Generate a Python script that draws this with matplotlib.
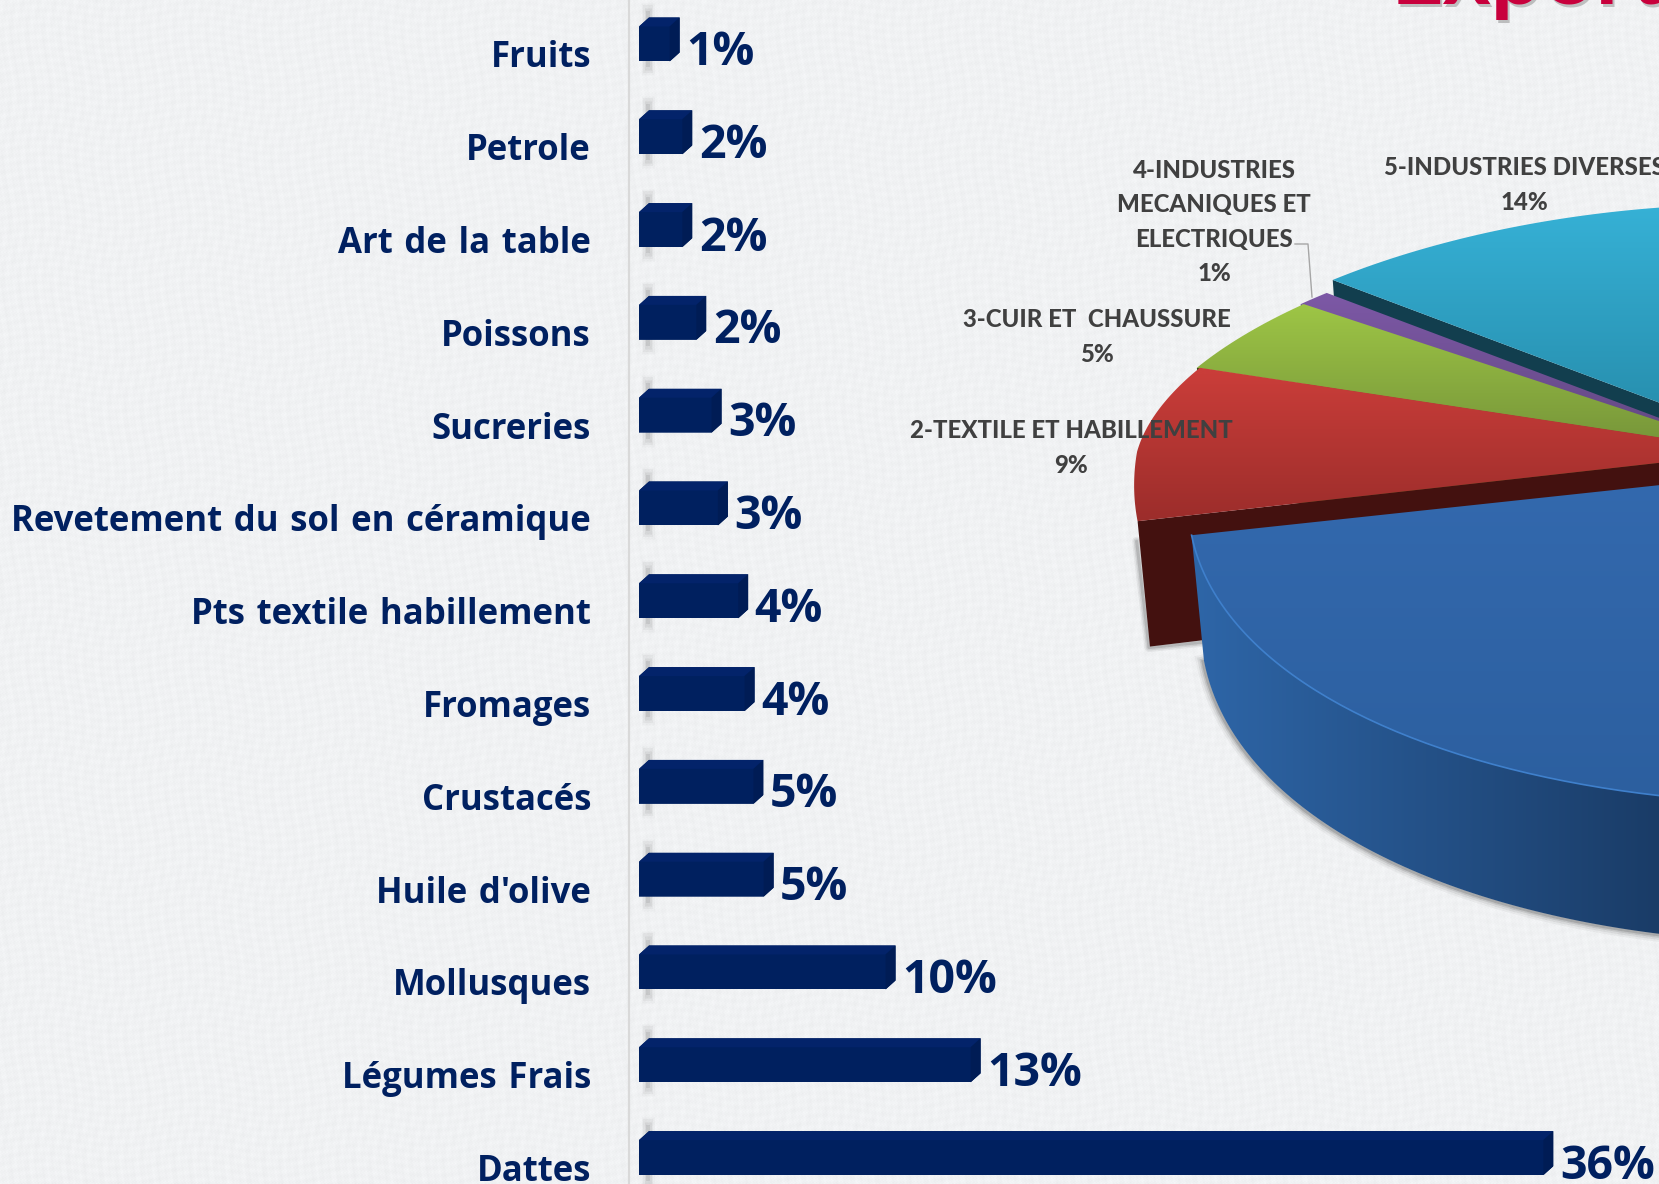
import numpy as np
import matplotlib
matplotlib.use("Agg")
import matplotlib.pyplot as plt
from matplotlib.patches import Polygon

# ---- data ----
bar_names = ["Fruits", "Petrole", "Art de la table", "Poissons", "Sucreries",
             "Revetement du sol en céramique", "Pts textile habillement", "Fromages",
             "Crustacés", "Huile d'olive", "Mollusques", "Légumes Frais", "Dattes"]
bar_values = [1.6, 2.1, 2.1, 2.65, 3.25, 3.5, 4.3, 4.55, 4.9, 5.3, 10.1, 13.45, 36.0]
bar_labels = ["1%", "2%", "2%", "2%", "3%", "3%", "4%", "4%", "5%", "5%", "10%", "13%", "36%"]

pie_labels = ["2-TEXTILE ET HABILLEMENT\n9%", "3-CUIR ET  CHAUSSURE\n5%",
              "4-INDUSTRIES\nMECANIQUES ET\nELECTRIQUES\n1%", "5-INDUSTRIES DIVERSES\n14%"]
pie_shares = [9, 5, 1, 14]      # red, green, purple, cyan
big_share = 71                  # blue slice

W, H = 1659, 1184
NAVY = "#002060"
fig = plt.figure(figsize=(W / 100, H / 100), dpi=100)

# ---- pixel axes: background, pie ----
ax = fig.add_axes([0, 0, 1, 1])
ax.set_xlim(0, W)
ax.set_ylim(H, 0)
ax.axis("off")

yy, xx = np.mgrid[0:H, 0:W]
tex = (242.0 + 1.6 * np.sin(xx * 1.93 + yy * 0.41) * np.sin(yy * 2.37 - xx * 0.29)
       + 1.6 * np.sin(xx * 0.31 + yy * 0.17) * np.sin(yy * 0.23 - xx * 0.11)
       + 1.2 * np.sin(xx * 0.77 + 3 * np.sin(yy * 0.05)) + 1.2 * np.sin(yy * 0.83 + 3 * np.sin(xx * 0.04))
       + 1.5 * np.sin(xx * 3.1 + yy * 2.3) * np.sin(xx * 1.3 - yy * 3.7))
bg = np.dstack([tex - 1.5, tex, tex + 1.5]).clip(0, 255).astype(np.uint8)
ax.imshow(bg, extent=(0, W, H, 0), aspect="auto", zorder=0, interpolation="nearest")


def to_rgb(c):
    return np.array(matplotlib.colors.to_rgb(c))


def gradient(xy, c0, c1, zorder, horizontal=False, span=None):
    xy = np.asarray(xy)
    x0, x1 = xy[:, 0].min(), xy[:, 0].max()
    y0, y1 = xy[:, 1].min(), xy[:, 1].max()
    t = np.linspace(0, 1, 256)
    if horizontal:
        if span:
            t = np.clip((x0 + t * (x1 - x0) - span[0]) / (span[1] - span[0]), 0, 1)
        arr = (to_rgb(c0)[None, :] * (1 - t)[:, None] + to_rgb(c1)[None, :] * t[:, None])[None, :, :]
    else:
        if span:
            t = np.clip((y0 + t * (y1 - y0) - span[0]) / (span[1] - span[0]), 0, 1)
        arr = (to_rgb(c0)[None, :] * (1 - t)[:, None] + to_rgb(c1)[None, :] * t[:, None])[:, None, :]
    im = ax.imshow(arr, extent=(x0, x1, y1, y0), aspect="auto", zorder=zorder, interpolation="bilinear")
    im.set_clip_path(Polygon(xy, closed=True, transform=ax.transData))


CX, CY, RX, RY_BACK = 1756.0, 452.0, 619.0, 235.0
DEPTH = 122.0


def rim(deg, cx=CX, cy=CY, ry_front=350.0):
    t = np.radians(deg)
    u, v = np.cos(t), np.sin(t)
    rx = RX - 65 * np.clip(v, 0, None) + 60 * np.clip(-v, 0, None)
    ry = np.where(v > 0, RY_BACK, ry_front)
    return np.column_stack([cx + rx * u, cy - ry * v])


def lower(pts, cx, deg):
    v = np.sin(np.radians(deg))
    d = DEPTH + 17 * np.clip(-v, 0, None)
    return np.column_stack([cx + (pts[:, 0] - cx) * 0.98, pts[:, 1] + d])


start = 191.4
edges = start - np.cumsum([0] + pie_shares) * 3.6
offsets = [(0, 0), (-3, 0), (-6, 0), (0, -13)]
faces = [("#C93D39", "#992C2A", "#43110F", 375, 530),
         ("#9FC746", "#78973A", "#3A4A18", 300, 440),
         ("#7E59A8", "#654A85", "#3E2A58", 285, 430),
         ("#36B1D6", "#268CAB", "#123E4E", 205, 430)]

# back to front: cyan, purple, green, red
for i in [3, 2, 1, 0]:
    deg = np.linspace(edges[i], edges[i + 1], 80)
    cx, cy = CX + offsets[i][0], CY + offsets[i][1]
    arc = rim(deg, cx, cy)
    apex = np.array([[cx, cy]])
    top = np.vstack([apex, arc])
    c0, c1, dark, y0, y1 = faces[i]
    p = arc[0]                      # lower, clockwise-start edge of the slice
    q = lower(arc[:1], cx, deg[:1])[0]
    cut = np.array([p, [cx, cy], [cx, cy + DEPTH], q])
    if i == 0:
        # soft shadow of the red cut face
        for w, a in [(9, 0.07), (6, 0.10), (3, 0.16)]:
            ax.plot([p[0] - 1, q[0] - 1, q[0] + 70], [p[1] + 20, q[1] + 1, q[1] - 6],
                    color="#303030", lw=w * 0.72, alpha=a, zorder=2 + (3 - i) * 0.1, solid_capstyle="round")
    ax.add_patch(Polygon(cut, closed=True, fc=dark, ec="none", zorder=3 + (3 - i) * 0.2))
    gradient(top, c0, c1, 3.1 + (3 - i) * 0.2, span=(y0, y1))

# exploded blue slice
BX, BY = CX + 54, CY + 17
deg = np.linspace(start, start + big_share * 3.6, 300)
arc = rim(deg, BX, BY, ry_front=335.0)
low = lower(arc, BX, deg)
for w, a in [(14, 0.05), (10, 0.08), (6, 0.12), (3, 0.18)]:
    ax.plot(low[:, 0] - 1, low[:, 1] + 1, color="#303030", lw=w * 0.72, alpha=a, zorder=4.5)
side = np.vstack([arc, low[::-1]])
gradient(side, "#2E66A8", "#193A64", 5, horizontal=True, span=(1190, 1680))
top = np.vstack([[[BX, BY]], arc])
gradient(top, "#3369AE", "#2C5F9F", 5.2, span=(480, 800))
ax.plot(arc[:, 0], arc[:, 1], color="#3F80CC", lw=1.2, zorder=5.3)

# pie labels
LBL = dict(family="Lato", fontweight="black", color="#404040", fontsize=17.3,
           ha="center", va="center", linespacing=1.6, zorder=8)
label_pos = [(1071, 448), (1097, 337), (1214, 222), (1524, 185)]
for s, (x, y) in zip(pie_labels, label_pos):
    ax.text(x, y, s, **LBL)
ax.plot([1295, 1308, 1312], [244, 244, 297], color="#A6A6A6", lw=1.0, zorder=7)

# clipped title
TITLE = "Exportations"
ax.text(1393, 7, TITLE, family="Lato", fontweight="bold", fontsize=66, color="#808080", alpha=0.45,
        ha="left", va="baseline", zorder=8)
ax.text(1391, 4, TITLE, family="Lato", fontweight="bold", fontsize=66, color="#C8003C",
        ha="left", va="baseline", zorder=8.1)
ax.set_xlim(0, W)
ax.set_ylim(H, 0)

# ---- bar axes ----
PX_PER_UNIT = 25.4
ROW = 92.8
LEFT_PX, ZERO_PX = 629.0, 639.0
top_px, bot_px = 39.5 - ROW / 2, 39.5 + 12.5 * ROW
bx = fig.add_axes([LEFT_PX / W, 1 - bot_px / H, (W - LEFT_PX) / W, (bot_px - top_px) / H])
bx.patch.set_alpha(0)
bx.set_xlim(-(ZERO_PX - LEFT_PX) / PX_PER_UNIT, (W - ZERO_PX) / PX_PER_UNIT)
bx.set_ylim(len(bar_values) - 0.5, -0.5)
for s in ["top", "right", "bottom"]:
    bx.spines[s].set_visible(False)
bx.spines["left"].set_color("#D9D9D9")
bx.spines["left"].set_linewidth(1.6)
bx.set_xticks([])
bx.set_yticks([])

ypos = np.arange(len(bar_values))
H_BAR = 44 / ROW
DX, DY = 10 / PX_PER_UNIT, 9 / ROW
bars = bx.barh(ypos, bar_values, height=H_BAR, color="#00205F", zorder=3)
for y, v, rect in zip(ypos, bar_values, bars):
    t, b = y - H_BAR / 2, y + H_BAR / 2
    rect.set_clip_path(Polygon([(0, t + DY), (DX, t), (v, t), (v, b - DY), (v - DX, b), (0, b)],
                               closed=True, transform=bx.transData))
    # blurred drop shadow crossing the row
    for half, a, w in [(36, 0.04, 13), (34, 0.06, 10), (31, 0.09, 7), (28, 0.13, 4)]:
        bx.plot([0.35, 0.35], [y - half / ROW, y + half / ROW], color="#606060", alpha=a, lw=w * 0.72,
                zorder=1, solid_capstyle="butt")
    bx.add_patch(Polygon([(0, t + DY), (DX, t), (v, t), (v - DX, t + DY)], closed=True, fc="#03236A", ec="none", zorder=4))
    bx.add_patch(Polygon([(v - DX, t + DY), (v, t), (v, b - DY), (v - DX, b)], closed=True, fc="#001C55", ec="none", zorder=4))

for y, v, name, lab in zip(ypos, bar_values, bar_names, bar_labels):
    bx.annotate(name.replace(" ", "\u2004"), xy=(0, y), xytext=(-48, -19), textcoords="offset pixels",
                ha="right", va="center", family="Open Sans", fontweight="bold", color=NAVY, fontsize=25,
                annotation_clip=False)
    bx.annotate(lab, xy=(v, y), xytext=(6.5, -13), textcoords="offset pixels", ha="left", va="center",
                family="Open Sans", fontweight="bold", color=NAVY, fontsize=33.5, annotation_clip=False)

fig.savefig("out.png", dpi=100)
